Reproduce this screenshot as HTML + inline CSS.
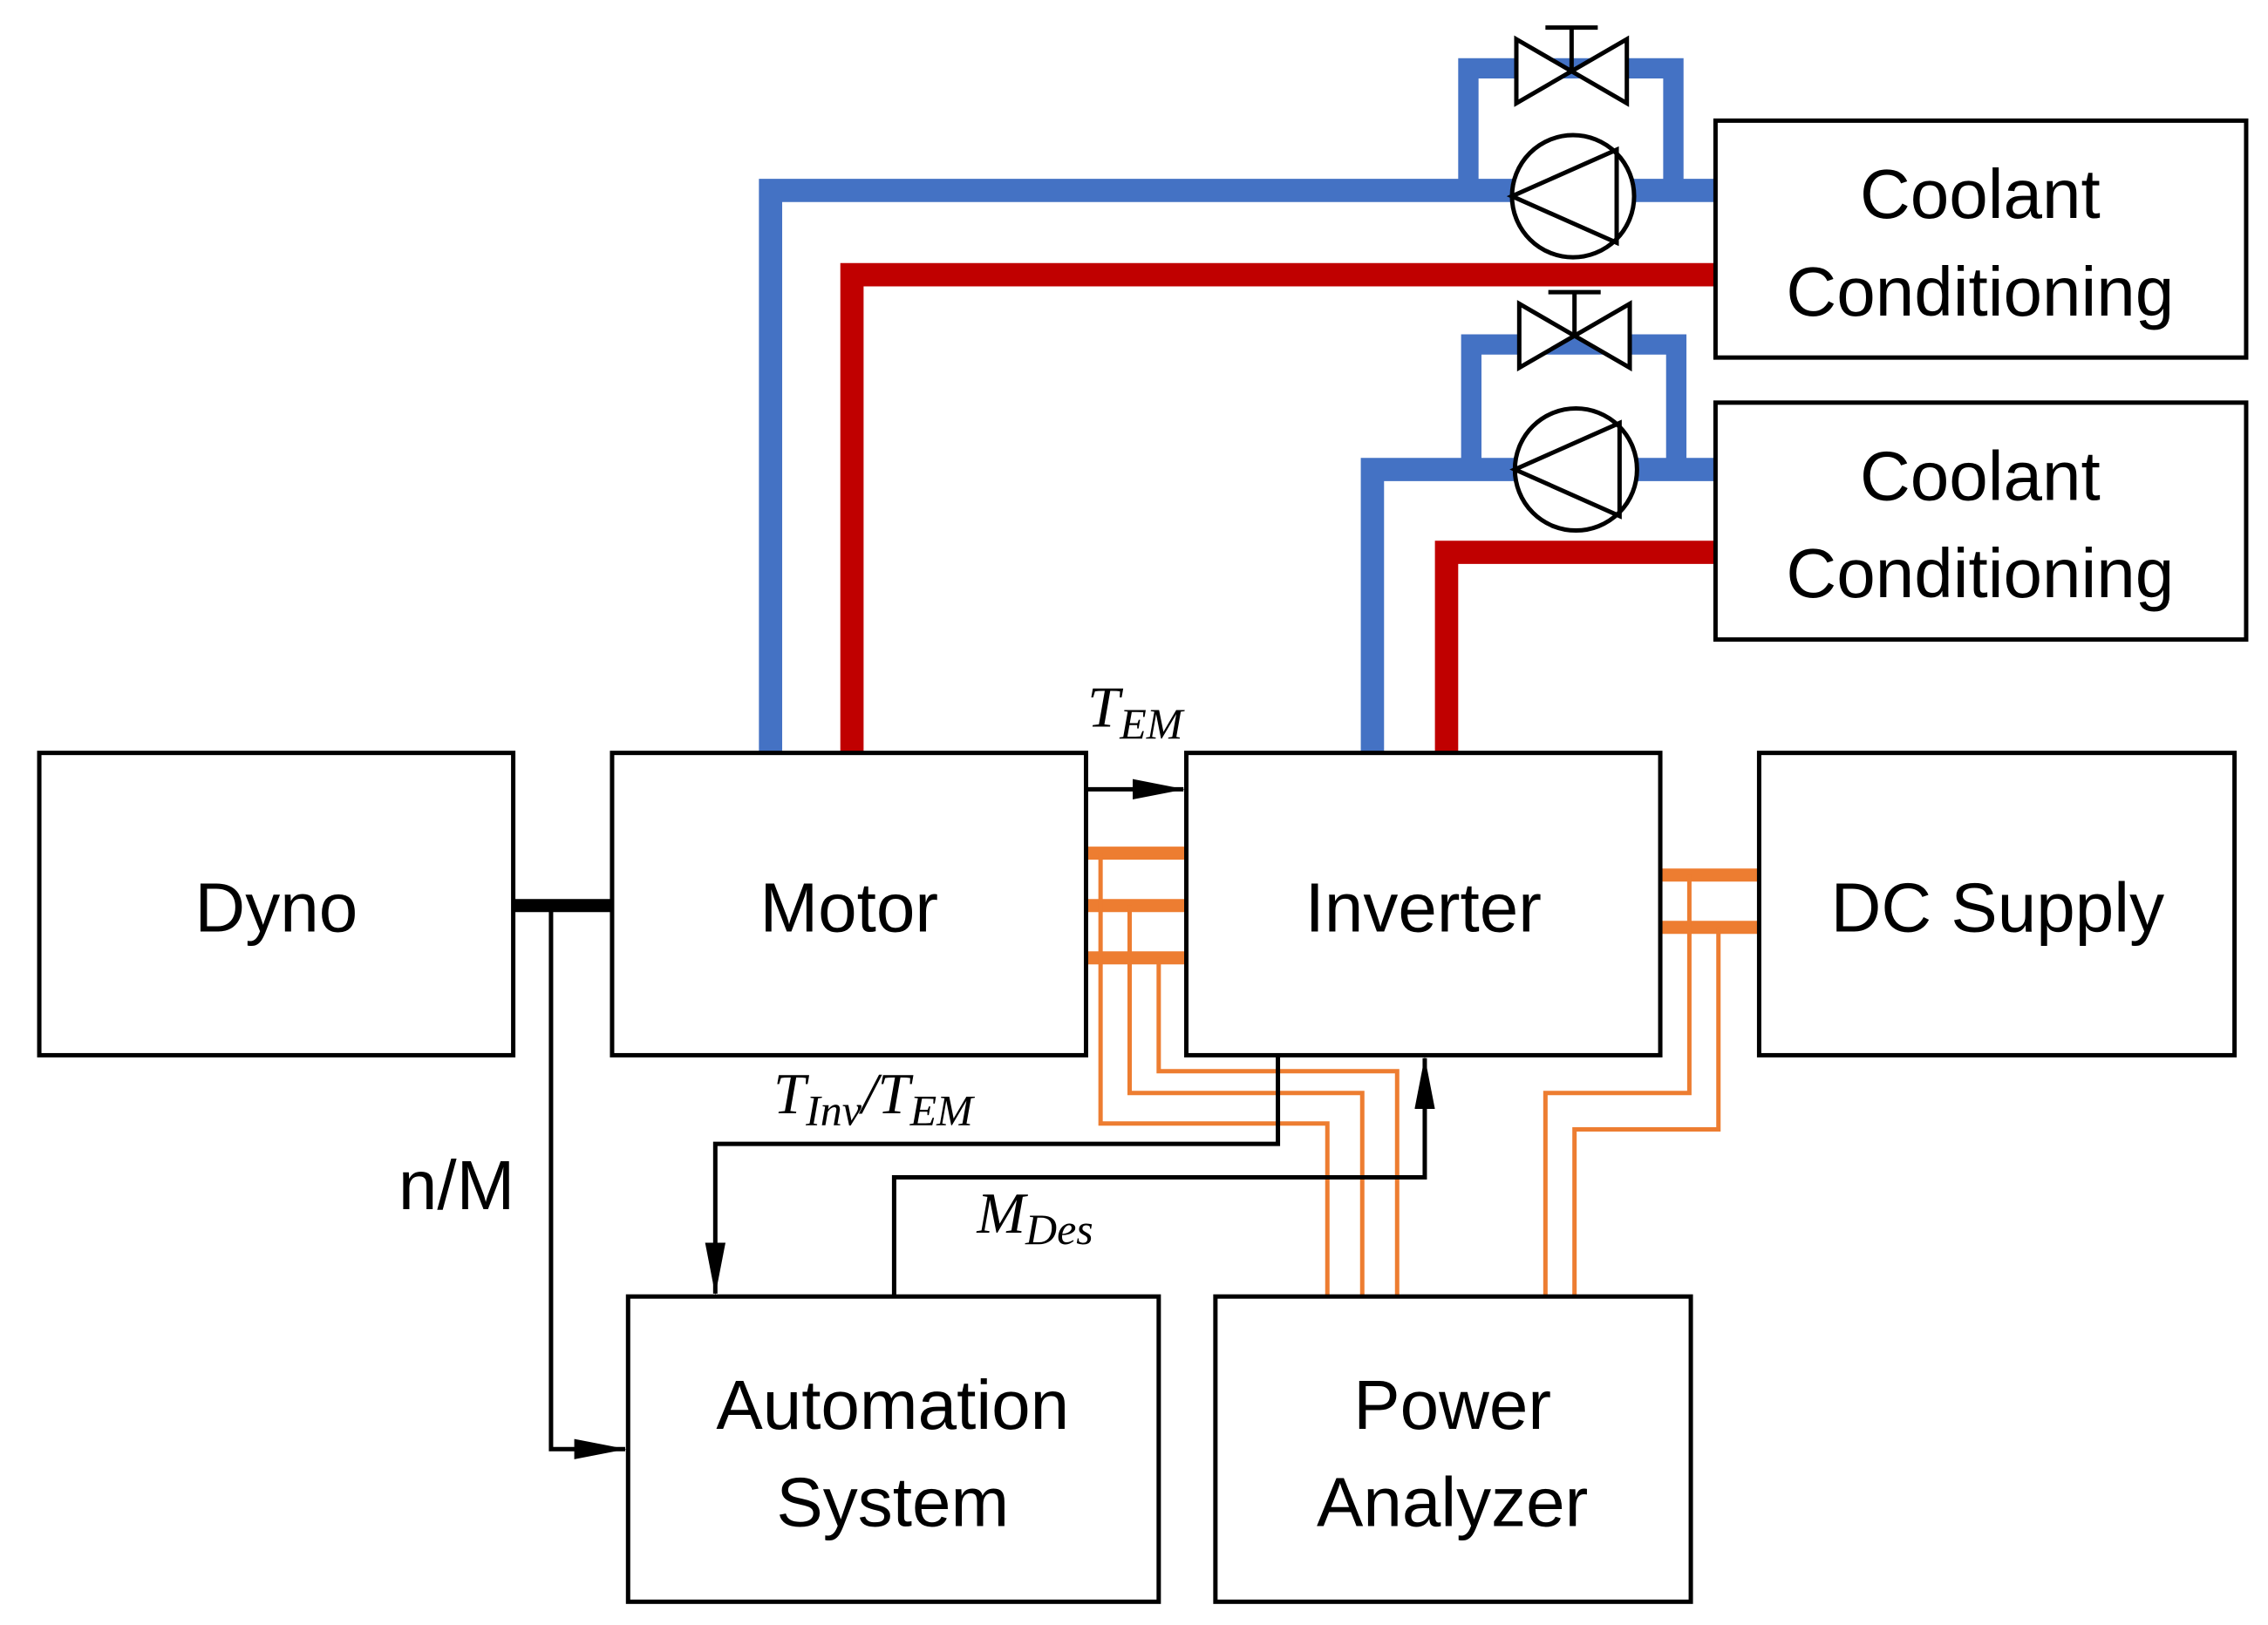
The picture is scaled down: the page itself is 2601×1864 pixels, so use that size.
<!DOCTYPE html>
<html><head><meta charset="utf-8"><style>
html,body{margin:0;padding:0;background:#fff;}
svg{display:block;}
text{font-family:"Liberation Sans",sans-serif;fill:#000;}
.m{font-family:"Liberation Serif",serif;font-style:italic;}
</style></head><body>
<svg width="2601" height="1864" viewBox="0 0 1560 1118" xmlns="http://www.w3.org/2000/svg">
<defs>
<marker id="b" markerWidth="36" markerHeight="14" refX="35" refY="7" orient="auto" markerUnits="userSpaceOnUse"><path d="M0,0 L36,7 L0,14 Z" fill="#000"/></marker></defs>
<g fill="none" stroke-linejoin="miter">
<path d="M530,518 V131 H1180" stroke="#4472C4" stroke-width="16"/>
<path d="M1010,131 V47 H1151 V131" stroke="#4472C4" stroke-width="14"/>
<path d="M944,518 V323 H1180" stroke="#4472C4" stroke-width="16"/>
<path d="M1012,323 V237 H1153 V323" stroke="#4472C4" stroke-width="14"/>
<path d="M586,518 V189 H1180" stroke="#C00000" stroke-width="16"/>
<path d="M995,518 V380 H1180" stroke="#C00000" stroke-width="16"/>
</g>
<g stroke="#000" stroke-width="3" fill="#fff">
<path d="M1043,27 L1119,71 L1119,27 L1043,71 Z"/>
<path d="M1081,49 V19 M1063,19 H1099" fill="none"/>
<circle cx="1082" cy="135" r="42"/>
<path d="M1040,135 L1112,103 L1112,167 Z" fill="none"/>
<path d="M1045,209 L1121,253 L1121,209 L1045,253 Z"/>
<path d="M1083,231 V201 M1065,201 H1101" fill="none"/>
<circle cx="1084" cy="323" r="42"/>
<path d="M1042,323 L1114,291 L1114,355 Z" fill="none"/>
</g>
<g stroke="#ED7D31" fill="none">
<path d="M747,587 H816 M747,623 H816 M747,659 H816 M1142,602 H1210 M1142,638 H1210" stroke-width="9"/>
<path d="M757,587 V773 H913 V892 M777,623 V752 H937 V892 M797,659 V737 H961 V892 M1162,602 V752 H1063 V892 M1182,638 V777 H1083 V892" stroke-width="3"/>
</g>
<g stroke="#000" stroke-width="3" fill="#fff">
<rect x="27" y="518" width="326" height="208"/>
<rect x="421" y="518" width="326" height="208"/>
<rect x="816" y="518" width="326" height="208"/>
<rect x="1210" y="518" width="327" height="208"/>
<rect x="1180" y="83" width="365" height="163"/>
<rect x="1180" y="277" width="365" height="163"/>
<rect x="432" y="892" width="365" height="210"/>
<rect x="836" y="892" width="327" height="210"/>
</g>
<g stroke="#000" fill="none">
<path d="M353,623 H421" stroke-width="9"/>
<path d="M379,623 V997 H430" stroke-width="3" marker-end="url(#b)"/>
<path d="M747,543 H814" stroke-width="3" marker-end="url(#b)"/>
<path d="M879,726 V787 H492 V890" stroke-width="3" marker-end="url(#b)"/>
<path d="M615,892 V810 H980 V728" stroke-width="3" marker-end="url(#b)"/>
</g>
<g font-size="48" text-anchor="middle">
<text x="190" y="641">Dyno</text>
<text x="584" y="641">Motor</text>
<text x="979" y="641">Inverter</text>
<text x="1374" y="641">DC Supply</text>
<text x="1362" y="150">Coolant</text>
<text x="1362" y="217">Conditioning</text>
<text x="1362" y="344">Coolant</text>
<text x="1362" y="411">Conditioning</text>
<text x="614" y="983">Automation</text>
<text x="614" y="1050">System</text>
<text x="999" y="983">Power</text>
<text x="999" y="1050">Analyzer</text>
<text x="314" y="832">n/M</text>
</g>
<text class="m" x="748" y="500" font-size="40">T<tspan font-size="30" dy="8">EM</tspan></text>
<text class="m" x="532" y="766" font-size="40">T<tspan font-size="30" dy="8">Inv</tspan><tspan font-size="40" dy="-8">/T</tspan><tspan font-size="30" dy="8">EM</tspan></text>
<text class="m" x="672" y="848" font-size="40">M<tspan font-size="30" dy="8">Des</tspan></text>
</svg>
</body></html>
